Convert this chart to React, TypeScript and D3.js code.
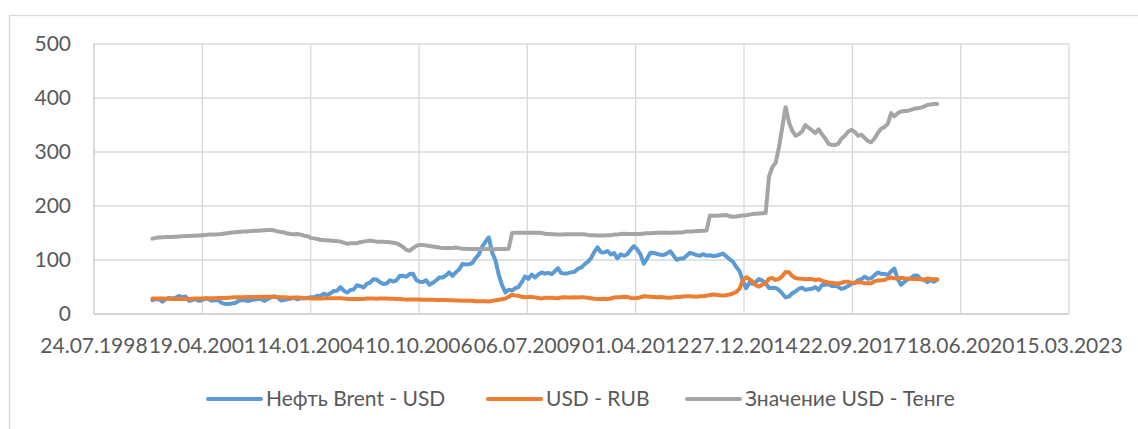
import React, { useEffect, useRef } from 'react';
import * as d3 from 'd3';

// x axis tick labels (Excel date axis, major unit 1000 days)
const tickLabels = [
  '24.07.1998', '19.04.2001', '14.01.2004', '10.10.2006', '06.07.2009',
  '01.04.2012', '27.12.2014', '22.09.2017', '18.06.2020', '15.03.2023',
];
const yTicks = [0, 100, 200, 300, 400, 500];

// monthly readings, Jan 2000 .. Nov 2019
const firstMonth = '2000-01-15';

const brent = [
  25.5, 27.8, 27.5, 22.8, 27.6, 29.8, 28.7, 30.0, 33.5, 30.9, 32.5, 24.5,
  25.6, 27.5, 24.5, 25.6, 28.5, 27.8, 24.6, 25.7, 25.6, 20.5, 18.7, 18.7,
  19.4, 20.3, 23.7, 25.7, 25.4, 24.1, 25.7, 26.6, 28.3, 27.5, 24.3, 28.0,
  31.2, 32.8, 30.4, 25.0, 25.8, 27.6, 28.4, 29.8, 27.1, 29.6, 28.8, 29.8,
  31.2, 30.9, 33.8, 33.4, 37.7, 35.2, 38.2, 42.7, 43.2, 49.8, 43.1, 39.7,
  44.3, 45.5, 53.1, 51.9, 49.0, 55.6, 57.9, 64.5, 63.7, 58.8, 55.4, 56.5,
  62.5, 60.0, 62.3, 70.4, 70.8, 68.9, 73.9, 74.5, 63.0, 59.9, 59.1, 62.4,
  54.3, 57.8, 62.1, 67.4, 67.5, 71.3, 77.0, 70.8, 77.2, 82.4, 92.5, 91.5,
  92.0, 94.8, 103.3, 110.4, 124.6, 134.0, 142.0, 113.9, 99.1, 72.8, 53.2, 40.0,
  44.9, 43.4, 47.7, 49.8, 59.0, 69.6, 65.0, 73.1, 67.7, 73.2, 77.0, 74.7,
  76.2, 73.8, 78.8, 84.8, 75.9, 74.8, 75.6, 77.1, 78.2, 83.5, 86.1, 92.0,
  96.5, 103.7, 114.6, 123.3, 114.5, 113.9, 116.7, 110.2, 112.8, 103.0, 110.5, 107.9,
  110.7, 119.3, 125.5, 119.8, 110.3, 93.0, 102.6, 113.4, 113.0, 111.5, 109.5, 109.2,
  112.3, 116.1, 108.5, 100.3, 102.6, 102.9, 107.9, 113.3, 111.6, 109.1, 107.8, 110.8,
  108.1, 108.9, 107.5, 107.8, 109.7, 111.8, 106.8, 101.6, 97.1, 87.4, 79.4, 62.3,
  47.8, 58.1, 55.9, 59.5, 64.6, 61.7, 56.8, 48.2, 48.6, 48.1, 44.3, 38.0,
  30.7, 32.2, 38.2, 41.6, 46.7, 48.8, 44.7, 45.7, 46.7, 49.7, 44.7, 53.3,
  54.6, 55.0, 51.6, 52.3, 50.3, 46.4, 48.5, 51.7, 56.2, 57.5, 62.7, 64.4,
  69.1, 65.3, 66.0, 72.1, 76.9, 74.4, 74.3, 72.5, 78.9, 84.0, 64.8, 54.0,
  59.4, 64.0, 66.1, 71.2, 71.3, 64.2, 63.9, 59.0, 62.8, 59.7, 63.2,
];

const usdRub = [
  28.5, 28.7, 28.5, 28.6, 28.3, 28.2, 27.9, 27.8, 27.8, 27.8, 27.8, 28.0,
  28.3, 28.7, 28.7, 28.8, 29.0, 29.1, 29.2, 29.3, 29.4, 29.6, 29.8, 30.1,
  30.5, 30.8, 31.0, 31.1, 31.2, 31.4, 31.5, 31.5, 31.6, 31.7, 31.8, 31.8,
  31.8, 31.5, 31.4, 31.2, 31.0, 30.5, 30.3, 30.4, 30.6, 30.0, 29.7, 29.4,
  28.8, 28.5, 28.5, 28.7, 29.0, 29.0, 29.1, 29.2, 29.2, 29.0, 28.6, 28.0,
  28.0, 27.9, 27.6, 27.9, 28.0, 28.5, 28.6, 28.5, 28.4, 28.6, 28.7, 28.7,
  28.3, 28.1, 27.8, 27.6, 27.1, 27.0, 26.9, 26.8, 26.8, 26.9, 26.5, 26.3,
  26.5, 26.3, 26.1, 25.8, 25.8, 25.8, 25.5, 25.6, 25.2, 24.9, 24.5, 24.6,
  24.5, 24.5, 23.8, 23.5, 23.7, 23.6, 23.3, 24.3, 25.3, 26.3, 27.4, 28.5,
  32.0, 35.7, 34.4, 33.6, 31.9, 31.0, 31.5, 31.7, 30.8, 29.5, 28.9, 29.9,
  29.9, 30.1, 29.6, 29.2, 30.4, 31.1, 30.5, 30.5, 30.9, 30.4, 31.1, 30.8,
  30.1, 29.3, 28.4, 28.0, 28.0, 28.1, 27.9, 28.7, 30.6, 31.1, 30.9, 31.9,
  31.5, 29.8, 29.3, 29.4, 31.0, 32.9, 32.5, 32.1, 31.6, 31.0, 31.3, 30.9,
  30.2, 30.1, 30.8, 31.3, 31.3, 32.3, 32.7, 33.0, 32.6, 32.0, 32.7, 32.9,
  33.7, 35.3, 36.2, 35.6, 34.9, 34.4, 34.7, 36.1, 37.9, 40.8, 46.3, 62.0,
  68.0, 64.6, 60.2, 53.2, 50.7, 54.6, 57.3, 65.4, 66.8, 63.1, 65.1, 70.0,
  78.0, 77.2, 70.5, 66.7, 65.6, 65.3, 64.4, 64.9, 64.6, 62.7, 64.4, 61.9,
  59.9, 58.4, 58.1, 56.4, 56.5, 57.9, 59.7, 59.6, 57.7, 57.7, 58.9, 58.6,
  56.8, 56.8, 57.0, 60.5, 62.2, 62.7, 62.9, 66.1, 67.7, 65.9, 66.2, 67.3,
  66.4, 65.8, 65.2, 64.6, 64.8, 64.2, 63.2, 65.6, 64.9, 64.4, 64.2,
];

const usdKzt = [
  139.5, 141, 141.5, 142, 142.5, 142.5, 142.5, 143, 143.5, 144, 144.5, 144.5,
  145, 145, 145.5, 146, 146.5, 147, 147, 147, 147.5, 148, 149, 150,
  151, 151.5, 152, 152.5, 153, 153, 153.5, 154, 154, 154.5, 155, 155.5,
  155.5, 154.5, 153, 152, 151, 149, 148, 147.5, 148, 147, 145, 144,
  141, 140, 139, 137, 137, 136, 136, 135, 135, 134, 132, 130,
  131, 131, 131, 133, 134, 135, 136, 135, 134, 134, 134, 133.5,
  133, 132, 131, 128, 124, 119, 117, 122, 126, 128, 128, 127,
  126, 125, 124, 123, 122, 122, 122, 122, 123, 122, 121, 121,
  120.5, 120.5, 120.5, 120.5, 120.5, 120.5, 120.5, 120, 120, 120.5, 120.5, 120.5,
  121, 150, 150.5, 150.5, 150.5, 150.5, 150.5, 150.5, 150.5, 150.5, 150, 148.5,
  148, 147.5, 147.5, 147, 147, 147.5, 147.5, 147.5, 147.5, 147.5, 147.5, 147.5,
  146.5, 146, 146, 145.5, 145.5, 145.5, 146, 146, 147, 147, 148, 148.5,
  148, 148, 148, 148, 148, 149, 149.5, 149.5, 150, 150.5, 150.5, 151,
  150.5, 150.5, 150.5, 151, 151, 151.5, 153, 153, 153, 153.5, 153.5, 154,
  154.5, 182.5, 182, 182, 182.5, 183, 183.5, 181, 180, 180.5, 181.5, 182.5,
  183, 184, 185, 185.5, 186, 186.5, 187, 255, 272, 280, 309, 345,
  383, 355, 340, 330, 333, 338, 350, 345, 340, 335, 342, 333,
  325, 315, 313, 313, 315, 325, 330, 338, 341, 337, 330, 332,
  326, 320, 318, 325, 335, 343, 346, 352, 372, 366, 372, 375,
  376, 376, 378, 380, 381, 382, 384, 387, 388, 389, 389,
];

const seriesNames = ['Нефть Brent - USD', 'USD - RUB', 'Значение USD - Тенге'];
const seriesColors = ['#5B9BD5', '#ED7D31', '#A5A5A5'];

const App = () => {
  const chartRef = useRef<SVGSVGElement>(null);

  useEffect(() => {
    const width = 1138;
    const height = 429;
    const marginLeft = 94;
    const marginRight = 69;
    const marginTop = 44;
    const marginBottom = 115;
    const textColor = '#595959';
    const font = 'Lato, "Open Sans", sans-serif';

    const svg = d3.select(chartRef.current);
    svg.selectAll('*').remove();

    const parse = d3.utcParse('%d.%m.%Y');
    const tickDates = tickLabels.map((t) => parse(t) as Date);

    const x = d3.scaleUtc()
      .domain([tickDates[0], tickDates[tickDates.length - 1]])
      .range([marginLeft, width - marginRight]);

    const y = d3.scaleLinear()
      .domain([0, 500])
      .range([height - marginBottom, marginTop]);

    const start = new Date(firstMonth + 'T00:00:00Z');
    const months = d3.range(brent.length).map((i) => d3.utcMonth.offset(start, i));

    // chart area border
    svg.append('rect')
      .attr('x', 9.5)
      .attr('y', 15.5)
      .attr('width', width + 10)
      .attr('height', height + 10)
      .attr('fill', 'white')
      .attr('stroke', '#d9d9d9')
      .attr('stroke-width', 1.3);

    // horizontal gridlines
    svg.append('g')
      .selectAll('line')
      .data(yTicks)
      .join('line')
      .attr('x1', marginLeft)
      .attr('x2', width - marginRight)
      .attr('y1', (d) => y(d))
      .attr('y2', (d) => y(d))
      .attr('stroke', (d) => (d === 0 ? '#c6c6c6' : '#d9d9d9'))
      .attr('stroke-width', 1.3);

    // vertical gridlines
    svg.append('g')
      .selectAll('line')
      .data(tickDates)
      .join('line')
      .attr('x1', (d) => x(d))
      .attr('x2', (d) => x(d))
      .attr('y1', marginTop)
      .attr('y2', height - marginBottom)
      .attr('stroke', (d, i) => (i === 0 ? '#c6c6c6' : '#d9d9d9'))
      .attr('stroke-width', 1.3);

    // y labels
    svg.append('g')
      .selectAll('text')
      .data(yTicks)
      .join('text')
      .attr('x', marginLeft - 23)
      .attr('y', (d) => y(d))
      .attr('dy', '0.35em')
      .attr('text-anchor', 'end')
      .attr('fill', textColor)
      .style('font', `21px ${font}`)
      .text((d) => d);

    // x labels
    svg.append('g')
      .selectAll('text')
      .data(tickDates)
      .join('text')
      .attr('x', (d) => x(d))
      .attr('y', height - marginBottom + 39)
      .attr('text-anchor', 'middle')
      .attr('fill', textColor)
      .style('font', `21px ${font}`)
      .text((d, i) => tickLabels[i]);

    // lines
    const line = d3.line<number>()
      .x((d, i) => x(months[i]))
      .y((d) => y(d));

    [brent, usdRub, usdKzt].forEach((values, k) => {
      svg.append('path')
        .datum(values)
        .attr('fill', 'none')
        .attr('stroke', seriesColors[k])
        .attr('stroke-width', 4)
        .attr('stroke-linejoin', 'round')
        .attr('stroke-linecap', 'round')
        .attr('d', line);
    });

    // legend
    const legendX = [208, 488, 687];
    const legendY = 399;
    const legend = svg.append('g');
    seriesNames.forEach((name, k) => {
      legend.append('line')
        .attr('x1', legendX[k])
        .attr('x2', legendX[k] + 53)
        .attr('y1', legendY)
        .attr('y2', legendY)
        .attr('stroke', seriesColors[k])
        .attr('stroke-width', 4)
        .attr('stroke-linecap', 'round');
      legend.append('text')
        .attr('x', legendX[k] + 58)
        .attr('y', legendY)
        .attr('dy', '0.35em')
        .attr('fill', textColor)
        .style('font', `21px ${font}`)
        .text(name);
    });
  }, []);

  return (
    <div style={{ position: 'absolute', left: 0, top: 0 }}>
      <svg ref={chartRef} width={1138} height={429} style={{ display: 'block' }} />
    </div>
  );
};

export default App;
